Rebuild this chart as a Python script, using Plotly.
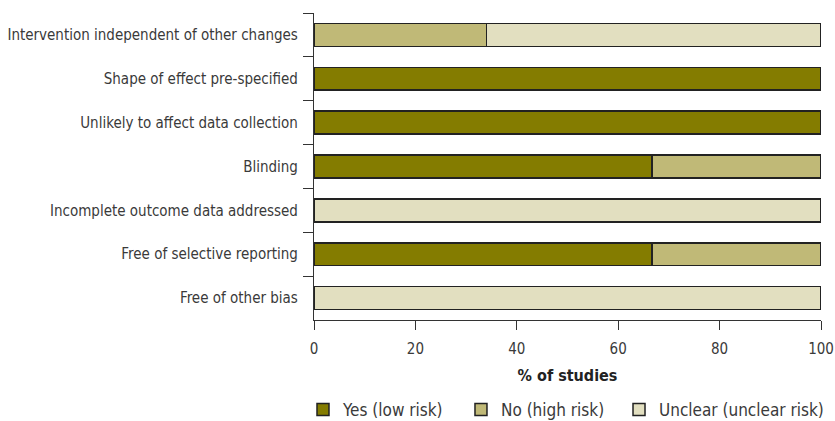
import plotly.graph_objects as go

categories = [
    "Intervention independent of other changes",
    "Shape of effect pre-specified",
    "Unlikely to affect data collection",
    "Blinding",
    "Incomplete outcome data addressed",
    "Free of selective reporting",
    "Free of other bias",
]
yes_low = [0, 100, 100, 66.7, 0, 66.7, 0]
no_high = [34, 0, 0, 33.3, 0, 33.3, 0]
unclear = [66, 0, 0, 0, 100, 0, 100]

series_names = ["Yes (low risk)", "No (high risk)", "Unclear (unclear risk)"]
colors = ["#847c00", "#c0b977", "#e2dfc0"]
x_ticks = [0, 20, 40, 60, 80, 100]

FONT = "DejaVu Sans Condensed, Roboto, sans-serif"
legend_ids = ["legend", "legend2", "legend3"]
legend_x = [-0.0217, 0.2899, 0.6016]

fig = go.Figure()
for name, vals, col, lid in zip(series_names, [yes_low, no_high, unclear], colors, legend_ids):
    fig.add_trace(go.Bar(
        y=categories, x=vals, name=name, orientation="h", legend=lid,
        marker=dict(color=col, line=dict(color="#222222", width=1.5)),
    ))

legend_style = dict(orientation="h", xanchor="left", y=-0.2345, yanchor="top",
                    font=dict(size=17, color="#3a3a3a"), itemwidth=30,
                    bgcolor="rgba(0,0,0,0)")

fig.update_layout(
    barmode="stack",
    bargap=0.48,
    width=835, height=421,
    margin=dict(l=314, r=14, t=13, b=101, autoexpand=False),
    paper_bgcolor="white", plot_bgcolor="white",
    font=dict(family=FONT, size=15, color="#3a3a3a"),
    showlegend=True,
    legend=dict(x=legend_x[0], **legend_style),
    legend2=dict(x=legend_x[1], **legend_style),
    legend3=dict(x=legend_x[2], **legend_style),
    xaxis=dict(range=[0, 100], tickvals=x_ticks, showgrid=False, zeroline=False,
               automargin=False,
               showline=True, linecolor="#333333", linewidth=1.2,
               ticks="outside", ticklen=9, tickcolor="#333333", ticklabelstandoff=6,
               tickfont=dict(size=15, color="#3a3a3a"),
               title=dict(text="<b>% of studies</b>", font=dict(size=16, color="#222222"), standoff=12)),
    yaxis=dict(categoryorder="array", categoryarray=categories, autorange="reversed",
               automargin=False,
               showgrid=False, showline=True, linecolor="#333333", linewidth=1.2,
               ticks="outside", ticklen=10, tickcolor="#333333", tickson="boundaries",
               ticklabelstandoff=12,
               tickfont=dict(size=15, color="#3a3a3a")),
)

fig.write_html(
    "out.html",
    config={"displayModeBar": False},
    post_script="document.body.style.margin='0';document.body.style.overflow='hidden';",
)
